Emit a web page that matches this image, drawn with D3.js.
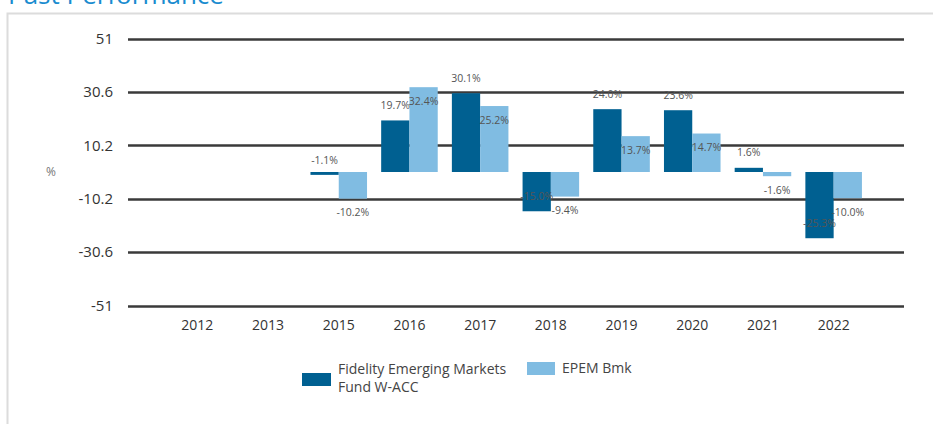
<!DOCTYPE html>
<html>
<head>
<meta charset="utf-8">
<script src="https://cdn.jsdelivr.net/npm/d3@7"></script>
<style>
    body { margin: 0; background: #fff; }
    svg { display: block; font-family: "Open Sans", sans-serif; }
</style>
</head>
<body>
<script>
//chart data
var years = ["2012", "2013", "2015", "2016", "2017", "2018", "2019", "2020", "2021", "2022"];
var fundValues = [null, null, -1.1, 19.7, 30.1, -15.0, 24.0, 23.6, 1.6, -25.3];
var benchValues = [null, null, -10.2, 32.4, 25.2, -9.4, 13.7, 14.7, -1.6, -10.0];
var yTicks = [51, 30.6, 10.2, -10.2, -30.6, -51];
var seriesNames = ["Fidelity Emerging Markets Fund W-ACC", "EPEM Bmk"];

//begin script when window loads
window.onload = setChart();

function setChart(){
    var width = 933,
        height = 424;

    var colors = { fund: "#006091", bench: "#80bce2" };

    var svg = d3.select("body")
        .append("svg")
        .attr("width", width)
        .attr("height", height);

    //title, cut off at the top of the frame like the source
    svg.append("text")
        .attr("x", 8)
        .attr("y", 4)
        .attr("fill", "#1a8ccf")
        .style("font-size", "26px")
        .text("Past Performance");

    //panel border
    svg.append("rect")
        .attr("x", 7.5)
        .attr("y", 13.5)
        .attr("width", 960)
        .attr("height", 440)
        .attr("fill", "none")
        .attr("stroke", "#dcdcdc")
        .attr("stroke-width", 2);

    //scales
    var x = d3.scaleBand()
        .domain(years)
        .range([162, 869])
        .paddingInner(0.2)
        .paddingOuter(0.1);

    var x1 = d3.scaleBand()
        .domain(["fund", "bench"])
        .range([0, x.bandwidth()]);

    var y = d3.scaleLinear()
        .domain([-51, 51])
        .range([305.5, 38.5]);

    //plain hyphen for negatives, as in the source
    function fmt(v){ return String(v); }

    //y labels
    var yAxis = svg.append("g")
        .attr("transform", "translate(128,0)")
        .call(d3.axisLeft(y).tickValues(yTicks).tickSize(0).tickPadding(15).tickFormat(fmt));
    yAxis.select(".domain").remove();
    yAxis.selectAll("text")
        .attr("fill", "#333")
        .style("font-size", "15px")
        .style("font-family", "Open Sans, sans-serif");

    //gridlines
    svg.append("g").selectAll("line")
        .data(yTicks)
        .enter()
        .append("line")
        .attr("x1", 128)
        .attr("x2", 904)
        .attr("y1", function(d){ return Math.round(y(d)) + 0.5; })
        .attr("y2", function(d){ return Math.round(y(d)) + 0.5; })
        .attr("stroke", "#3a3a3a")
        .attr("stroke-width", 2.5);

    //unit label
    svg.append("text")
        .attr("x", 51)
        .attr("y", 172)
        .attr("dy", "0.35em")
        .attr("text-anchor", "middle")
        .attr("fill", "#777")
        .style("font-size", "12px")
        .text("%");

    //x labels
    var xAxis = svg.append("g")
        .attr("transform", "translate(0,320)")
        .call(d3.axisBottom(x).tickSize(0).tickPadding(0));
    xAxis.select(".domain").remove();
    xAxis.selectAll("text")
        .attr("fill", "#333")
        .style("font-size", "14px")
        .style("font-family", "Open Sans, sans-serif");

    //build rows for bars
    var rows = [];
    years.forEach(function(yr, i){
        if (fundValues[i] !== null) rows.push({ year: yr, key: "fund", value: fundValues[i] });
        if (benchValues[i] !== null) rows.push({ year: yr, key: "bench", value: benchValues[i] });
    });

    //bars
    svg.append("g").selectAll("rect")
        .data(rows)
        .enter()
        .append("rect")
        .attr("x", function(d){ return x(d.year) + x1(d.key); })
        .attr("width", x1.bandwidth())
        .attr("y", function(d){ return y(Math.max(0, d.value)); })
        .attr("height", function(d){ return Math.abs(y(d.value) - y(0)); })
        .attr("fill", function(d){ return colors[d.key]; });

    //value labels: fund above the bar end, benchmark below it
    svg.append("g").selectAll("text")
        .data(rows)
        .enter()
        .append("text")
        .attr("x", function(d){ return x(d.year) + x1(d.key) + x1.bandwidth() / 2; })
        .attr("y", function(d){ return y(d.value) + (d.key === "fund" ? -15 : 14); })
        .attr("dy", "0.35em")
        .attr("text-anchor", "middle")
        .attr("fill", "#555")
        .style("font-size", "10.5px")
        .text(function(d){ return d.value.toFixed(1) + "%"; });

    //legend
    var legend = svg.append("g");
    legend.append("rect")
        .attr("x", 302).attr("y", 373)
        .attr("width", 29).attr("height", 13)
        .attr("fill", colors.fund);
    legend.append("text")
        .attr("x", 338).attr("y", 374)
        .attr("fill", "#444")
        .style("font-size", "14px")
        .text("Fidelity Emerging Markets");
    legend.append("text")
        .attr("x", 338).attr("y", 392)
        .attr("fill", "#444")
        .style("font-size", "14px")
        .text("Fund W-ACC");
    legend.append("rect")
        .attr("x", 527).attr("y", 362)
        .attr("width", 28).attr("height", 13)
        .attr("fill", colors.bench);
    legend.append("text")
        .attr("x", 562).attr("y", 373)
        .attr("fill", "#444")
        .style("font-size", "14px")
        .text(seriesNames[1]);
};
</script>
</body>
</html>
